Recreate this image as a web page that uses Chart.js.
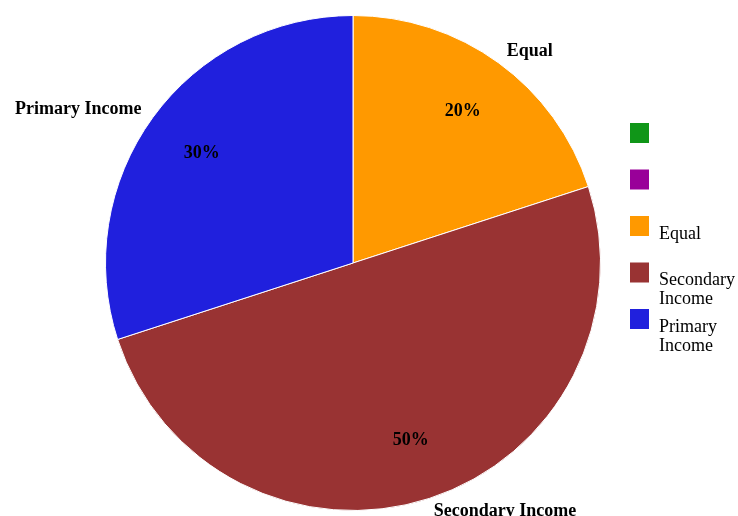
<!DOCTYPE html>
<html>
<head>
<meta charset="utf-8">
<script src="https://cdn.jsdelivr.net/npm/chart.js@4/dist/chart.umd.min.js"></script>
<style>
  html, body { margin: 0; padding: 0; background: #fff; }
  #wrap { width: 738px; height: 516px; }
</style>
</head>
<body>
<div id="wrap"><canvas id="myChart"></canvas></div>
<script>
// income split
var sliceLabels = ['', '', 'Equal', 'Secondary Income', 'Primary Income'];
var sliceValues = [0, 0, 20, 50, 30];
var sliceColors = ['#109618', '#990099', '#ff9900', '#993333', '#2020dd'];

var serif = '"Liberation Serif", "Times New Roman", serif';

// percentages inside, names just outside the rim
var pieLabels = {
  id: 'pieLabels',
  afterDatasetsDraw: function (chart) {
    var ctx = chart.ctx;
    var meta = chart.getDatasetMeta(0);
    var total = sliceValues.reduce(function (a, b) { return a + b; }, 0);
    ctx.save();
    ctx.fillStyle = '#000';
    ctx.textBaseline = 'middle';
    meta.data.forEach(function (arc, i) {
      if (!sliceValues[i]) return;
      var mid = (arc.startAngle + arc.endAngle) / 2;
      var r = arc.outerRadius;
      var pct = Math.round(sliceValues[i] / total * 100) + '%';
      ctx.font = 'bold 18px ' + serif;
      ctx.textAlign = 'center';
      ctx.fillText(pct, arc.x + Math.cos(mid) * r * 0.755, arc.y + Math.sin(mid) * r * 0.755);

      var ro = r + 14;
      var lx = arc.x + Math.cos(mid) * ro;
      var ly = arc.y + Math.sin(mid) * ro;
      ctx.textAlign = Math.cos(mid) >= 0 ? 'left' : 'right';
      ctx.fillText(sliceLabels[i], lx, ly);
    });
    ctx.restore();
  }
};

// legend on the right, text drops below the box and wraps
var sideLegend = {
  id: 'sideLegend',
  afterDraw: function (chart) {
    var ctx = chart.ctx;
    var x = 630, y = 123, box = 19, step = 46.5, maxW = 82;
    ctx.save();
    ctx.font = '18px ' + serif;
    ctx.textBaseline = 'middle';
    ctx.textAlign = 'left';
    sliceLabels.forEach(function (label, i) {
      var top = y + i * step;
      ctx.fillStyle = sliceColors[i];
      ctx.fillRect(x, top, box, box + 1);
      ctx.fillStyle = '#000';
      var words = label.split(' ');
      var lines = [];
      var line = '';
      words.forEach(function (w) {
        var test = line ? line + ' ' + w : w;
        if (line && ctx.measureText(test).width > maxW) {
          lines.push(line);
          line = w;
        } else {
          line = test;
        }
      });
      if (line) lines.push(line);
      lines.forEach(function (l, j) {
        ctx.fillText(l, x + box + 10, top + 18 + j * 19);
      });
    });
    ctx.restore();
  }
};

var chart = new Chart(document.getElementById('myChart'), {
  type: 'pie',
  data: {
    labels: sliceLabels,
    datasets: [{
      data: sliceValues,
      backgroundColor: sliceColors,
      borderColor: '#fff',
      borderWidth: sliceValues.map(function (v) { return v ? 1 : 0; })
    }]
  },
  options: {
    responsive: true,
    maintainAspectRatio: false,
    animation: false,
    layout: { padding: { top: 15, bottom: 5, left: 104, right: 136 } },
    plugins: {
      legend: { display: false },
      tooltip: { enabled: false }
    }
  },
  plugins: [pieLabels, sideLegend]
});
</script>
</body>
</html>
